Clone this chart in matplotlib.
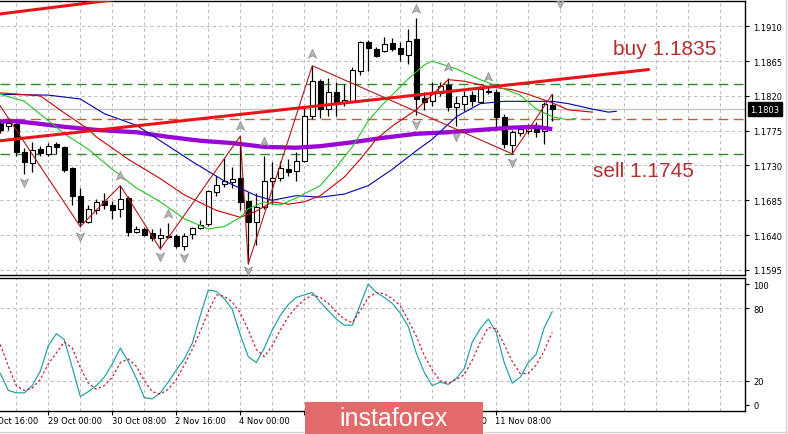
import numpy as np
import matplotlib
matplotlib.use("Agg")
import matplotlib.pyplot as plt
import matplotlib.transforms as mtransforms
from matplotlib.patches import Rectangle
from matplotlib.path import Path
from matplotlib.lines import Line2D

# ---------------- data (EURUSD H4, bars 0..69) ----------------
opens = [1.1786, 1.1781, 1.1784, 1.1747, 1.1733, 1.1751, 1.1745, 1.1758, 1.1754, 1.1727,
         1.1691, 1.1657, 1.1672, 1.1684, 1.1679, 1.1674, 1.1688, 1.1644, 1.1648, 1.1643,
         1.1636, 1.1639, 1.1639, 1.1626, 1.1641, 1.1649, 1.1654, 1.1696, 1.1706, 1.1709,
         1.1714, 1.1684, 1.1657, 1.1676, 1.1710, 1.1714, 1.1725, 1.1723, 1.1736, 1.1794,
         1.1839, 1.1803, 1.1825, 1.1812, 1.1813, 1.1852, 1.1890, 1.1881, 1.1878, 1.1888,
         1.1882, 1.1873, 1.1894, 1.1817, 1.1813, 1.1824, 1.1834, 1.1806, 1.1810, 1.1821,
         1.1812, 1.1826, 1.1825, 1.1793, 1.1757, 1.1772, 1.1775, 1.1781, 1.1775, 1.1808]
highs = [1.1790, 1.1788, 1.1788, 1.1753, 1.1760, 1.1755, 1.1759, 1.1760, 1.1755, 1.1728,
         1.1701, 1.1679, 1.1687, 1.1694, 1.1684, 1.1704, 1.1691, 1.1652, 1.1651, 1.1648,
         1.1649, 1.1656, 1.1641, 1.1643, 1.1651, 1.1660, 1.1698, 1.1716, 1.1740, 1.1728,
         1.1768, 1.1696, 1.1694, 1.1742, 1.1735, 1.1736, 1.1738, 1.1747, 1.1806, 1.1859,
         1.1842, 1.1843, 1.1838, 1.1835, 1.1857, 1.1891, 1.1892, 1.1883, 1.1896, 1.1895,
         1.1890, 1.1907, 1.1921, 1.1825, 1.1838, 1.1838, 1.1843, 1.1820, 1.1826, 1.1826,
         1.1833, 1.1833, 1.1829, 1.1797, 1.1776, 1.1782, 1.1784, 1.1786, 1.1812, 1.1822]
lows = [1.1772, 1.1776, 1.1742, 1.1719, 1.1722, 1.1742, 1.1742, 1.1745, 1.1722, 1.1679,
        1.1651, 1.1656, 1.1667, 1.1674, 1.1661, 1.1663, 1.1639, 1.1643, 1.1639, 1.1632,
        1.1622, 1.1636, 1.1623, 1.1621, 1.1635, 1.1648, 1.1652, 1.1691, 1.1702, 1.1701,
        1.1672, 1.1603, 1.1627, 1.1674, 1.1680, 1.1710, 1.1716, 1.1710, 1.1735, 1.1790,
        1.1791, 1.1794, 1.1794, 1.1807, 1.1812, 1.1847, 1.1852, 1.1870, 1.1877, 1.1878,
        1.1865, 1.1861, 1.1795, 1.1802, 1.1807, 1.1820, 1.1800, 1.1781, 1.1800, 1.1807,
        1.1811, 1.1822, 1.1780, 1.1753, 1.1745, 1.1768, 1.1771, 1.1767, 1.1758, 1.1788]
closes = [1.1776, 1.1785, 1.1747, 1.1735, 1.1750, 1.1746, 1.1755, 1.1754, 1.1724, 1.1691,
          1.1657, 1.1674, 1.1683, 1.1679, 1.1672, 1.1687, 1.1644, 1.1648, 1.1640, 1.1636,
          1.1640, 1.1638, 1.1626, 1.1639, 1.1649, 1.1653, 1.1697, 1.1705, 1.1710, 1.1713,
          1.1683, 1.1657, 1.1676, 1.1710, 1.1714, 1.1727, 1.1722, 1.1736, 1.1794, 1.1839,
          1.1803, 1.1825, 1.1812, 1.1815, 1.1854, 1.1890, 1.1882, 1.1872, 1.1887, 1.1881,
          1.1874, 1.1891, 1.1816, 1.1812, 1.1825, 1.1833, 1.1806, 1.1811, 1.1820, 1.1813,
          1.1829, 1.1825, 1.1793, 1.1758, 1.1773, 1.1777, 1.1780, 1.1773, 1.1810, 1.1803]

# alligator (shifted forward) and long MA
jaw_k = [0, 6, 10, 13, 17, 20, 24, 28, 32, 34, 37, 40, 43, 46, 49, 52, 54, 57, 60, 63, 67, 69, 71, 74, 76, 77]
jaw_p = [1.1822, 1.1821, 1.1816, 1.1797, 1.1782, 1.1762, 1.1735, 1.1710, 1.1691, 1.1685,
         1.1691, 1.1689, 1.1693, 1.1704, 1.1725, 1.1749, 1.1764, 1.1793, 1.1810, 1.1813,
         1.1813, 1.1813, 1.1810, 1.1803, 1.1799, 1.1800]
teeth_k = [0, 5, 8, 11, 12, 16, 20, 23, 27, 30, 32, 34, 36, 38, 40, 43, 45, 47, 49, 52, 56, 58, 61, 64, 66, 69, 71, 74]
teeth_p = [1.1824, 1.1820, 1.1798, 1.1777, 1.1767, 1.1738, 1.1713, 1.1692, 1.1672, 1.1663,
           1.1671, 1.1683, 1.1680, 1.1683, 1.1691, 1.1715, 1.1738, 1.1764, 1.1781, 1.1802,
           1.1841, 1.1839, 1.1832, 1.1828, 1.1822, 1.1811, 1.1802, 1.1799]
lips_k = [0, 3, 6, 8, 11, 14, 17, 20, 23, 26, 28, 30, 31, 33, 34, 35, 37, 40, 42, 44, 46, 48,
          51, 53, 54, 57, 60, 62, 65, 67, 69, 71, 72]
lips_p = [1.1822, 1.1813, 1.1788, 1.1771, 1.1751, 1.1725, 1.1701, 1.1683, 1.1661, 1.1648,
          1.1651, 1.1663, 1.1674, 1.1683, 1.1680, 1.1679, 1.1688, 1.1704, 1.1728, 1.1754,
          1.1788, 1.1811, 1.1842, 1.1860, 1.1865, 1.1855, 1.1841, 1.1833, 1.1821, 1.1803,
          1.1793, 1.1789, 1.1791]
ma_k = [0, 1, 4, 8, 12, 17, 21, 25, 29, 33, 37, 40, 44, 48, 52, 56, 60, 64, 67, 69]
ma_p = [1.1786, 1.1788, 1.1785, 1.1780, 1.1776, 1.1773, 1.1767, 1.1762, 1.1759, 1.1754,
        1.1753, 1.1755, 1.1760, 1.1766, 1.1771, 1.1773, 1.1776, 1.1779, 1.1780, 1.1777]

zigzag_k = [-2, 10, 15, 20, 30, 31, 39, 64, 69]
zigzag_p = [1.1838, 1.1651, 1.1704, 1.1622, 1.1768, 1.1603, 1.1859, 1.1745, 1.1822]

frac_up_k = [15, 21, 30, 33, 39, 52, 56, 61]
frac_up_p = [1.1716, 1.1667, 1.1781, 1.1760, 1.1874, 1.1932, 1.1857, 1.1844]
frac_dn_k = [3, 10, 20, 23, 31, 52, 57, 64, 70]
frac_dn_p = [1.1709, 1.1639, 1.1613, 1.1612, 1.1595, 1.1784, 1.1768, 1.1735, 1.1940]

trend_k = [0, 81]
trend_p = [1.1762, 1.1854]
channel_k = [0, 14]
channel_p = [1.1926, 1.1944]

buy_level = 1.1835
sell_level = 1.1745
pivot_level = 1.1790
last_price = 1.1803

stoch_main = [26, 12, 10, 10, 16, 28, 49, 59, 54, 31,
              7, 11, 16, 23, 34, 47, 36, 22, 6, 5,
              10, 19, 29, 38, 51, 74, 95, 94, 88, 79,
              58, 40, 35, 47, 62, 74, 83, 89, 91, 93,
              85, 78, 71, 66, 66, 83, 100, 93, 89, 84,
              76, 65, 43, 27, 16, 19, 17, 22, 30, 52,
              63, 71, 60, 35, 18, 23, 35, 42, 64, 77]
stoch_signal = [50, 32, 16, 12, 14, 21, 34, 43, 52, 47,
                31, 18, 13, 16, 23, 35, 38, 32, 20, 11,
                9, 13, 21, 33, 46, 61, 77, 91, 90, 85,
                76, 62, 46, 40, 49, 62, 73, 81, 87, 91,
                89, 84, 77, 71, 68, 78, 89, 93, 92, 88,
                82, 70, 57, 41, 29, 20, 18, 21, 25, 37,
                52, 64, 63, 50, 36, 26, 26, 33, 45, 60]

price_ticks = [1.1595, 1.1640, 1.1685, 1.1730, 1.1775, 1.1820, 1.1865, 1.1910]
stoch_ticks = [0, 20, 80, 100]
# labels at 38/46 sit fully under the watermark in the original, 54 only shows its last "0"
time_k = [-2, 6, 14, 22, 30, 54, 62]
time_labels = ['27 Oct 16:00', '29 Oct 00:00', '30 Oct 08:00', '2 Nov 16:00', '4 Nov 00:00',
               '10 Nov 00:00', '11 Nov 08:00']

# ---------------- figure ----------------
W, H = 788, 435
fig = plt.figure(figsize=(W / 100, H / 100), dpi=100)
fig.patch.set_facecolor('white')
ax = fig.add_axes([0, 1 - 276 / H, 745 / W, 274 / H])
ax2 = fig.add_axes([0, 1 - 412 / H, 745 / W, 133 / H])

xmin, xmax = -0.04, 93.1
grid_kw = dict(color='#bcbcbc', ls=(0, (3, 3)), lw=0.75, zorder=0)

for a in (ax, ax2):
    a.set_xlim(xmin, xmax)
    a.spines['left'].set_visible(False)
    for s in ('top', 'right', 'bottom'):
        a.spines[s].set_linewidth(1.0)
        a.spines[s].set_color('black')
    for k in range(2, 94, 4):
        a.axvline(k, **grid_kw)

# main price panel
ax.set_ylim(1.15884, 1.19427)
ax.set_xticks([])
ax.yaxis.tick_right()
ax.set_yticks(price_ticks)
ax.set_yticklabels([f'{p:.4f}' for p in price_ticks])
ax.tick_params(axis='y', length=3, width=0.8, pad=3, labelsize=6)
for p in price_ticks:
    ax.axhline(p, **grid_kw)

ax.axhline(buy_level, color='#2f8a2f', ls=(0, (7, 4)), lw=1, zorder=1)
ax.axhline(sell_level, color='#2f8a2f', ls=(0, (7, 4)), lw=1, zorder=1)
ax.axhline(pivot_level, color='#d05a30', ls=(0, (7, 4)), lw=1, zorder=1)
ax.axhline(last_price, color='#c4c4c4', lw=1, zorder=1)

# candles
x = np.arange(len(opens))
o = np.array(opens); c = np.array(closes)
ax.vlines(x, lows, highs, color='black', lw=0.9, zorder=3)
body_lo = np.minimum(o, c)
body_h = np.maximum(np.abs(c - o), 0.00007)
face = ['white' if cc > oo else 'black' for oo, cc in zip(o, c)]
ax.bar(x, body_h, bottom=body_lo, width=0.64, color=face, edgecolor='black',
       linewidth=0.8, zorder=4)

# indicators
ax.plot(ma_k, ma_p, color='#9a06d6', lw=3.1, zorder=5, solid_capstyle='butt')
ax.plot(jaw_k, jaw_p, color='#0000b0', lw=0.8, zorder=5)
ax.plot(teeth_k, teeth_p, color='#d00000', lw=0.8, zorder=5)
ax.plot(lips_k, lips_p, color='#22c422', lw=0.8, zorder=5)
ax.plot(zigzag_k, zigzag_p, color='#b01818', lw=0.8, zorder=5)

up_path = Path([(0, 1), (0.8, -0.7), (0, -0.25), (-0.8, -0.7), (0, 1)],
               [Path.MOVETO, Path.LINETO, Path.LINETO, Path.LINETO, Path.CLOSEPOLY])
dn_path = Path([(0, -1), (0.8, 0.7), (0, 0.25), (-0.8, 0.7), (0, -1)],
               [Path.MOVETO, Path.LINETO, Path.LINETO, Path.LINETO, Path.CLOSEPOLY])
ax.scatter(frac_up_k, frac_up_p, marker=up_path, s=55, facecolor='#b4b4b4',
           edgecolor='#8c8c8c', linewidth=0.5, zorder=6)
ax.scatter(frac_dn_k, frac_dn_p, marker=dn_path, s=55, facecolor='#b4b4b4',
           edgecolor='#8c8c8c', linewidth=0.5, zorder=6)

ax.plot(trend_k, trend_p, color='#e8141a', lw=2.2, zorder=7)
ax.plot(channel_k, channel_p, color='#e8141a', lw=2.2, zorder=7)

ax.text(76.6, 1.18742, 'buy 1.1835', color='#b3302e', fontsize=15,
        family='Liberation Sans', va='baseline', ha='left', zorder=8)
ax.text(74.1, 1.17164, 'sell 1.1745', color='#b3302e', fontsize=15,
        family='Liberation Sans', va='baseline', ha='left', zorder=8)

trans = mtransforms.blended_transform_factory(ax.transAxes, ax.transData)
ax.text(1.0 + 5 / 745, last_price, f'{last_price:.4f}', transform=trans, color='white',
        fontsize=6, va='center', ha='left', zorder=9, clip_on=False,
        bbox=dict(boxstyle='square,pad=0.3', fc='black', ec='black'))

# stochastic panel
ax2.set_ylim(-5, 105)
ax2.yaxis.tick_right()
ax2.set_yticks(stoch_ticks)
ax2.set_yticklabels([str(t) for t in stoch_ticks])
ax2.tick_params(axis='y', length=3, width=0.8, pad=3, labelsize=6)
ax2.axhline(20, **grid_kw)
ax2.axhline(80, **grid_kw)
ax2.set_xticks([6, 14, 22, 30, 38, 46, 54, 62])
ax2.set_xticklabels([])
ax2.tick_params(axis='x', length=3, width=0.8)

ax2.plot(x, stoch_main, color='#1fa0a0', lw=0.85, zorder=4)
ax2.plot(x, stoch_signal, color='#c8102e', lw=0.85, ls=(0, (2, 2)), zorder=4)

ttrans = mtransforms.blended_transform_factory(ax2.transData, ax2.transAxes)
visible_area = mtransforms.Bbox([[483, 0], [W, 40]])
for k, lab in zip(time_k, time_labels):
    t = ax2.text(k - 0.1, -0.075, lab, transform=ttrans, ha='left', va='center',
                 fontsize=6, clip_on=False, zorder=2)
    if 36 < k < 58:
        t.set_clip_on(True)
        t.set_clip_box(visible_area)

# watermark
fig.add_artist(Rectangle((305 / W, 0), 178 / W, 32 / H, transform=fig.transFigure,
                         facecolor='#e36a6a', edgecolor='none', zorder=20))
fig.text(394 / W, 16 / H, 'instaforex', color='white', fontsize=18,
         family='Liberation Sans', ha='center', va='center', zorder=21)

# outer frame
fig.add_artist(Line2D([785.5 / W, 785.5 / W], [0, 1], transform=fig.transFigure,
                      color='#d4d4d4', lw=1))
fig.add_artist(Line2D([0, 1], [2.5 / H, 2.5 / H], transform=fig.transFigure,
                      color='#d4d4d4', lw=1, zorder=19))

fig.savefig('out.png', dpi=100, facecolor='white')
